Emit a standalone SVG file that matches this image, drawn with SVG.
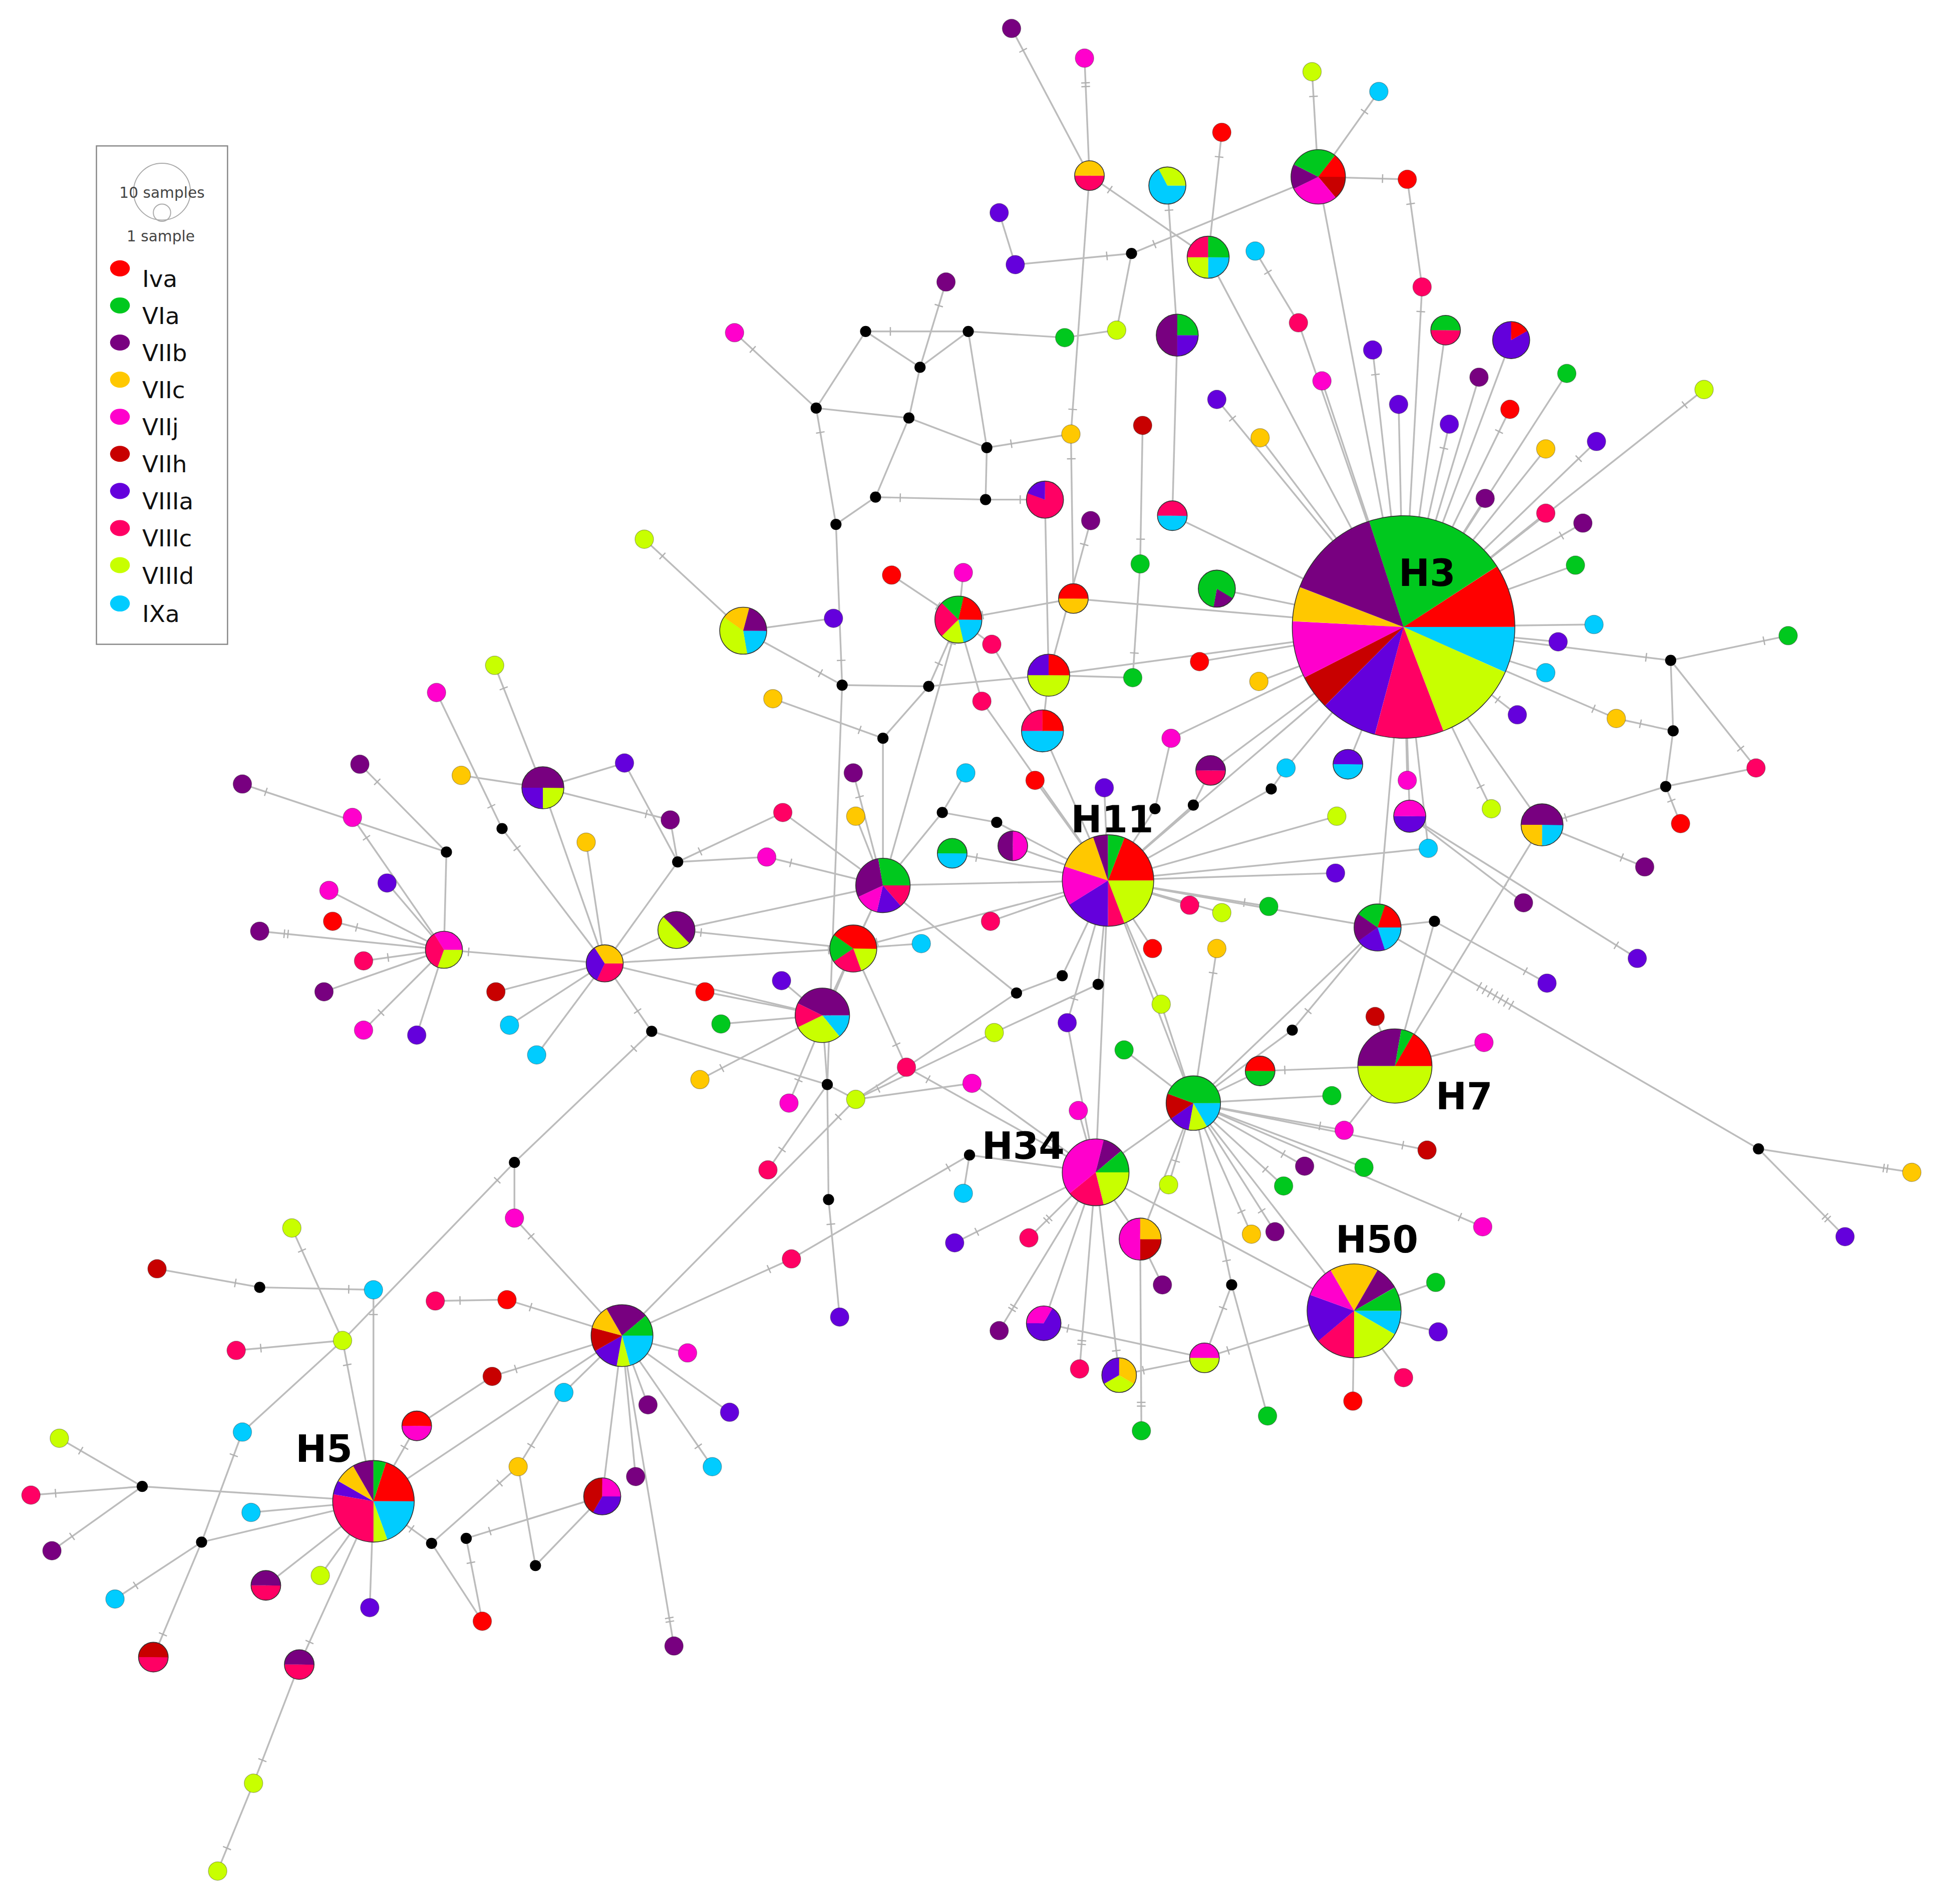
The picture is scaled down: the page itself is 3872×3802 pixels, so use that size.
<svg xmlns="http://www.w3.org/2000/svg" width="3872" height="3802" viewBox="0 0 3872 3802">
<style>
.e path{stroke:#bcbcbc;stroke-width:1.4;fill:none}
.e path.t{marker-start:url(#tk)}
.e path.u{marker-start:url(#tk2)}
.n{stroke:rgba(0,0,0,0.28);stroke-width:.6}
.b{fill:#000}
.f0{fill:#ff0000}.f1{fill:#00c81e}.f2{fill:#780080}.f3{fill:#ffc800}.f4{fill:#ff00cc}
.f5{fill:#c80000}.f6{fill:#6400dc}.f7{fill:#ff0064}.f8{fill:#c8ff00}.f9{fill:#00ccff}
.s{fill:none;stroke-width:100}
.k0{stroke:#ff0000}.k1{stroke:#00c81e}.k2{stroke:#780080}.k3{stroke:#ffc800}.k4{stroke:#ff00cc}
.k5{stroke:#c80000}.k6{stroke:#6400dc}.k7{stroke:#ff0064}.k8{stroke:#c8ff00}.k9{stroke:#00ccff}
.o{fill:none;stroke:#333;stroke-width:1.6}
.lab{font-family:"DejaVu Sans",Verdana,sans-serif;font-weight:bold;font-size:30px;fill:#000}
.lg{font-family:"DejaVu Sans",Verdana,sans-serif;font-size:19px;fill:#111}
.lgs{font-family:"DejaVu Sans",Verdana,sans-serif;font-size:12px;fill:#444;text-anchor:middle}
</style>
<defs>
<marker id="tk" markerUnits="userSpaceOnUse" orient="auto" refX="-20" refY="0" markerWidth="40" markerHeight="40" overflow="visible"><path d="M0 -3.5V3.5" stroke="#b0b0b0" stroke-width="1"/></marker>
<marker id="tk2" markerUnits="userSpaceOnUse" orient="auto" refX="-20" refY="0" markerWidth="40" markerHeight="40" overflow="visible"><path d="M0 -3.5V3.5M3 -3.5V3.5" stroke="#b0b0b0" stroke-width="1"/></marker>
</defs>
<rect width="3872" height="3802" fill="#fff"/>
<g transform="scale(2.4694)">
<g id="legend">
<rect x="78" y="118" width="106" height="403" fill="#fff" stroke="#888" stroke-width="1"/>
<circle cx="131" cy="155" r="23" fill="none" stroke="#aaa" stroke-width=".8"/>
<circle cx="131" cy="172" r="7" fill="none" stroke="#aaa" stroke-width=".8"/>
<text class="lgs" x="131" y="160">10 samples</text>
<text class="lgs" x="130" y="195">1 sample</text>
<ellipse cx="97" cy="217" rx="8" ry="6.5" class="f0"/><text class="lg" x="115" y="232">Iva</text>
<ellipse cx="97" cy="247" rx="8" ry="6.5" class="f1"/><text class="lg" x="115" y="262">VIa</text>
<ellipse cx="97" cy="277" rx="8" ry="6.5" class="f2"/><text class="lg" x="115" y="292">VIIb</text>
<ellipse cx="97" cy="307" rx="8" ry="6.5" class="f3"/><text class="lg" x="115" y="322">VIIc</text>
<ellipse cx="97" cy="337" rx="8" ry="6.5" class="f4"/><text class="lg" x="115" y="352">VIIj</text>
<ellipse cx="97" cy="367" rx="8" ry="6.5" class="f5"/><text class="lg" x="115" y="382">VIIh</text>
<ellipse cx="97" cy="397" rx="8" ry="6.5" class="f6"/><text class="lg" x="115" y="412">VIIIa</text>
<ellipse cx="97" cy="427" rx="8" ry="6.5" class="f7"/><text class="lg" x="115" y="442">VIIIc</text>
<ellipse cx="97" cy="457" rx="8" ry="6.5" class="f8"/><text class="lg" x="115" y="472">VIIId</text>
<ellipse cx="97" cy="488" rx="8" ry="6.5" class="f9"/><text class="lg" x="115" y="503">IXa</text>
</g>
<g id="edges" class="e">
<path class="t" d="M1150 232L1135 507"/><path class="t" d="M1138 145L1150 232"/><path class="t" d="M1138 145L1066 143"/><path d="M1066 143L1135 507"/>
<path class="t" d="M1061 58L1066 143"/><path class="t" d="M1115 74L1066 143"/><path d="M1050 261L1135 507"/><path class="t" d="M1015 203L1050 261"/>
<path d="M1069 308L1135 507"/><path class="t" d="M1110 283L1135 507"/><path d="M1131 327L1135 507"/><path d="M1169 267L1135 507"/>
<path class="t" d="M1172 343L1135 507"/><path d="M1196 305L1135 507"/><path d="M1222 275L1135 507"/><path class="t" d="M1221 331L1135 507"/>
<path d="M1267 302L1135 507"/><path d="M1250 363L1135 507"/><path class="t" d="M1291 357L1135 507"/><path class="t" d="M1378 315L1135 507"/>
<path d="M1201 403L1135 507"/><path d="M1250 415L1135 507"/><path class="t" d="M1280 423L1135 507"/><path d="M1274 457L1135 507"/>
<path d="M1289 505L1135 507"/><path d="M1260 519L1135 507"/><path d="M1250 544L1135 507"/><path class="t" d="M1227 578L1135 507"/>
<path class="t" d="M1307 581L1135 507"/><path class="t" d="M1206 654L1135 507"/><path d="M1140 660L1135 507"/><path d="M1138 631L1135 507"/>
<path d="M1090 618L1135 507"/><path d="M1040 621L1135 507"/><path d="M979 623L1135 507"/><path d="M947 597L1135 507"/>
<path d="M970 535L1135 507"/><path d="M1018 551L1135 507"/><path d="M984 476L1135 507"/><path d="M948 417L1135 507"/>
<path d="M1019 354L1135 507"/><path class="t" d="M984 323L1135 507"/><path class="t" d="M988 107L977 208"/><path d="M977 208L1135 507"/>
<path d="M868 484L1135 507"/><path d="M848 546L1135 507"/><path d="M896 712L1135 507"/><path d="M1114 750L1135 507"/>
<path d="M1247 667L1135 507"/><path d="M1155 686L1135 507"/><path class="t" d="M881 142L977 208"/><path class="t" d="M944 150L952 271"/>
<path d="M952 271L948 417"/><path class="t" d="M1446 514L1351 534"/><path class="t" d="M1351 534L1135 507"/><path class="t" d="M1420 621L1351 534"/>
<path d="M1353 591L1351 534"/><path class="t" d="M1307 581L1353 591"/><path d="M1347 636L1353 591"/><path class="t" d="M1359 666L1347 636"/>
<path d="M1420 621L1347 636"/><path class="t" d="M1247 667L1347 636"/><path class="t" d="M1330 701L1247 667"/><path class="t" d="M1232 730L1140 660"/>
<path class="t" d="M1324 775L1140 660"/><path class="t" d="M1251 795L1160 745"/><path d="M1160 745L1114 750"/><path d="M1160 745L1128 862"/>
<path class="t" d="M1128 862L1247 667"/><path d="M1200 843L1128 862"/><path d="M1112 822L1128 862"/><path d="M1087 914L1128 862"/>
<path class="t" d="M1154 930L965 892"/><path class="t" d="M1019 866L1128 862"/><path d="M1114 750L1422 929"/>
<path d="M1194.2 801.3L1198.2 794.3M1198.5 803.8L1202.5 796.8M1202.8 806.3L1206.8 799.3M1207.2 808.8L1211.2 801.8M1211.5 811.3L1215.5 804.3M1215.8 813.9L1219.8 806.9M1220.1 816.4L1224.1 809.4" style="stroke:#b0b0b0;stroke-width:1"/>
<path class="u" d="M1546 948L1422 929"/><path class="u" d="M1492 1000L1422 929"/>
<path d="M1080 706L896 712"/><path d="M1081 660L896 712"/><path d="M1028 638L896 712"/><path d="M1028 638L1040 621"/>
<path d="M965 651L896 712"/><path d="M965 651L979 623"/><path d="M934 654L896 712"/><path d="M934 654L947 597"/>
<path d="M893 637L896 712"/><path d="M837 631L896 712"/><path d="M806 665L896 712"/><path d="M819 684L896 712"/>
<path class="t" d="M770 690L896 712"/><path d="M801 745L896 712"/><path d="M962 732L896 712"/><path d="M932 767L896 712"/>
<path class="t" d="M988 738L896 712"/><path class="t" d="M1026 733L896 712"/><path d="M888 796L896 712"/><path d="M859 789L896 712"/>
<path class="t" d="M863 827L896 712"/><path d="M939 812L896 712"/><path d="M965 892L896 712"/><path class="t" d="M714 716L896 712"/>
<path class="t" d="M690 767L896 712"/><path d="M843 591L896 712"/><path d="M848 546L843 591"/><path d="M1114 750L896 712"/>
<path d="M1155 686L896 712"/><path class="t" d="M984 767L965 892"/>
<path d="M965 892L1114 750"/><path d="M1019 866L965 892"/><path d="M1077 886L965 892"/><path class="t" d="M1087 914L965 892"/>
<path class="t" d="M1055 943L965 892"/><path d="M1103 944L965 892"/><path class="t" d="M1038 959L965 892"/><path class="t" d="M1031 996L965 892"/>
<path class="t" d="M1012 998L965 892"/><path class="t" d="M945 958L965 892"/><path class="t" d="M1199 992L965 892"/><path d="M1161 1037L1095 1060"/>
<path class="u" d="M1095 1060L965 892"/><path d="M909 849L965 892"/><path d="M939 812L965 892"/><path d="M1045 833L965 892"/>
<path class="t" d="M1045 833L1114 750"/><path d="M886 948L965 892"/><path d="M922 1002L965 892"/><path class="t" d="M996 1039L965 892"/>
<path class="t" d="M996 1039L974 1098"/><path d="M996 1039L1025 1145"/><path class="t" d="M974 1098L1095 1060"/><path class="t" d="M844 1070L974 1098"/>
<path d="M1163 1077L1095 1060"/><path d="M1135 1114L1095 1060"/><path d="M1094 1133L1095 1060"/>
<path d="M872 898L886 948"/><path d="M863 827L886 948"/><path d="M786 876L886 948"/><path class="t" d="M733 863L886 948"/>
<path class="u" d="M832 1001L886 948"/><path d="M844 1070L886 948"/><path class="u" d="M808 1076L886 948"/><path class="u" d="M873 1107L886 948"/>
<path class="t" d="M905 1112L886 948"/><path d="M922 1002L886 948"/><path class="t" d="M772 1005L886 948"/><path d="M784 934L886 948"/>
<path d="M940 1039L922 1002"/><path class="u" d="M923 1157L922 1002"/><path class="t" d="M905 1112L974 1098"/><path class="t" d="M886 948L896 712"/>
<path d="M886 948L1095 1060"/>
<path class="t" d="M784 934L640 1018"/><path class="t" d="M640 1018L503 1080"/><path d="M779 965L784 934"/><path class="t" d="M692 889L503 1080"/>
<path d="M692 889L669 877"/><path d="M692 889L786 876"/><path class="t" d="M692 889L804 835"/><path d="M692 889L733 863"/>
<path d="M669 877L665 821"/><path d="M669 877L527 834"/><path d="M669 877L670 970"/><path class="t" d="M670 970L679 1065"/>
<path class="t" d="M621 946L669 877"/><path class="t" d="M638 892L690 767"/><path class="t" d="M527 834L489 779"/><path class="t" d="M527 834L416 940"/>
<path class="t" d="M416 940L277 1084"/><path d="M416 940L416 985"/><path class="t" d="M416 985L503 1080"/><path class="t" d="M733 863L690 767"/>
<path d="M822 803L733 863"/><path d="M822 803L714 716"/><path d="M859 789L822 803"/><path d="M804 835L888 796"/>
<path d="M570 802L665 821"/><path d="M583 828L665 821"/><path class="t" d="M566 873L665 821"/><path d="M632 793L665 821"/>
<path class="t" d="M665 821L714 716"/><path d="M665 821L489 779"/><path class="t" d="M690 767L489 779"/><path d="M690 767L714 716"/>
<path d="M745 763L690 767"/><path d="M714 716L762 657"/><path d="M762 657L781 625"/><path d="M762 657L806 665"/>
<path d="M633 657L714 716"/><path class="t" d="M620 693L714 716"/><path d="M692 660L714 716"/><path class="t" d="M690 625L714 716"/>
<path d="M714 716L714 597"/><path d="M714 597L751 555"/><path class="t" d="M714 597L625 565"/><path d="M751 555L681 554"/>
<path class="t" d="M751 555L775 501"/><path d="M751 555L848 546"/><path class="t" d="M681 554L601 510"/><path class="t" d="M681 554L676 424"/>
<path d="M681 554L669 877"/><path d="M674 500L601 510"/><path class="t" d="M521 436L601 510"/><path class="t" d="M775 501L721 465"/>
<path d="M779 463L775 501"/><path d="M802 521L775 501"/><path d="M775 501L794 567"/><path class="t" d="M775 501L714 716"/>
<path class="t" d="M775 501L868 484"/><path d="M794 567L896 712"/><path d="M802 521L843 591"/><path class="t" d="M882 421L848 546"/>
<path class="t" d="M916 548L922 456"/><path class="t" d="M922 456L924 344"/><path d="M916 548L848 546"/><path class="t" d="M845 404L797 404"/>
<path d="M845 404L848 546"/><path class="t" d="M866 351L881 142"/><path class="t" d="M866 351L868 484"/>
<path d="M903 267L861 273"/><path d="M861 273L783 268"/><path d="M903 267L915 205"/><path class="t" d="M915 205L1066 143"/>
<path class="t" d="M915 205L821 214"/><path d="M808 172L821 214"/><path class="t" d="M818 23L881 142"/><path class="u" d="M877 47L881 142"/>
<path class="t" d="M765 228L744 297"/><path class="t" d="M594 269L660 330"/><path d="M660 330L700 268"/><path class="t" d="M700 268L783 268"/>
<path d="M700 268L744 297"/><path d="M744 297L783 268"/><path d="M744 297L735 338"/><path d="M735 338L660 330"/>
<path d="M735 338L798 362"/><path d="M735 338L708 402"/><path d="M798 362L797 404"/><path class="t" d="M708 402L797 404"/>
<path d="M708 402L676 424"/><path class="t" d="M660 330L676 424"/><path class="t" d="M798 362L866 351"/><path d="M783 268L798 362"/>
<path class="t" d="M294 777L359 768"/><path class="t" d="M269 745L359 768"/><path d="M266 720L359 768"/><path class="t" d="M285 661L359 768"/>
<path d="M313 714L359 768"/><path class="u" d="M210 753L359 768"/><path d="M262 802L359 768"/><path class="t" d="M294 833L359 768"/>
<path d="M337 837L359 768"/><path d="M361 689L359 768"/><path class="t" d="M291 618L361 689"/><path class="t" d="M196 634L361 689"/>
<path class="t" d="M359 768L489 779"/><path d="M474 681L489 779"/><path class="t" d="M406 670L489 779"/><path d="M401 802L489 779"/>
<path d="M412 829L489 779"/><path d="M434 853L489 779"/><path d="M548 697L489 779"/><path d="M547 752L489 779"/>
<path d="M439 637L489 779"/><path class="t" d="M406 670L353 560"/><path class="t" d="M400 538L439 637"/><path d="M373 627L439 637"/>
<path d="M505 617L439 637"/><path class="t" d="M542 663L439 637"/><path d="M548 697L542 663"/><path d="M548 697L505 617"/>
<path class="t" d="M548 697L633 657"/><path d="M548 697L620 693"/><path class="t" d="M547 752L690 767"/><path d="M547 752L714 716"/>
<path class="t" d="M410 1051L503 1080"/><path d="M556 1094L503 1080"/><path d="M524 1136L503 1080"/><path d="M590 1142L503 1080"/>
<path class="t" d="M576 1186L503 1080"/><path d="M514 1194L503 1080"/><path d="M456 1126L503 1080"/><path class="t" d="M398 1113L503 1080"/>
<path class="u" d="M545 1331L503 1080"/><path d="M487 1210L503 1080"/><path class="t" d="M352 1052L410 1051"/><path class="t" d="M302 1214L503 1080"/>
<path class="t" d="M337 1153L302 1214"/><path d="M337 1153L398 1113"/><path class="t" d="M419 1186L456 1126"/><path d="M419 1186L433 1266"/>
<path class="t" d="M419 1186L349 1248"/><path class="t" d="M302 1043L302 1214"/><path class="t" d="M302 1043L210 1041"/><path class="t" d="M210 1041L127 1026"/>
<path class="t" d="M236 993L277 1084"/><path class="t" d="M277 1084L302 1214"/><path class="t" d="M191 1092L277 1084"/><path class="t" d="M196 1158L163 1247"/>
<path d="M196 1158L277 1084"/><path d="M115 1202L302 1214"/><path class="t" d="M48 1163L115 1202"/><path class="t" d="M25 1209L115 1202"/>
<path class="t" d="M42 1254L115 1202"/><path d="M203 1223L302 1214"/><path d="M163 1247L302 1214"/><path class="t" d="M93 1293L163 1247"/>
<path class="t" d="M124 1340L163 1247"/><path d="M259 1274L302 1214"/><path d="M215 1282L302 1214"/><path d="M299 1300L302 1214"/>
<path class="t" d="M242 1346L302 1214"/><path class="t" d="M205 1442L242 1346"/><path class="t" d="M176 1513L205 1442"/><path class="t" d="M349 1248L302 1214"/>
<path d="M349 1248L390 1311"/><path class="t" d="M377 1244L390 1311"/><path class="t" d="M377 1244L487 1210"/><path d="M433 1266L487 1210"/>
</g>
<g id="H3" transform="translate(1135 507) scale(.9)">
<circle class="s k0" r="50" pathLength="360" stroke-dasharray="33 360" transform="rotate(-33)"/>
<circle class="s k9" r="50" pathLength="360" stroke-dasharray="24 360" transform="rotate(0)"/>
<circle class="s k8" r="50" pathLength="360" stroke-dasharray="45 360" transform="rotate(24)"/>
<circle class="s k7" r="50" pathLength="360" stroke-dasharray="36 360" transform="rotate(69)"/>
<circle class="s k6" r="50" pathLength="360" stroke-dasharray="30 360" transform="rotate(105)"/>
<circle class="s k5" r="50" pathLength="360" stroke-dasharray="18 360" transform="rotate(135)"/>
<circle class="s k4" r="50" pathLength="360" stroke-dasharray="30 360" transform="rotate(153)"/>
<circle class="s k3" r="50" pathLength="360" stroke-dasharray="18 360" transform="rotate(183)"/>
<circle class="s k2" r="50" pathLength="360" stroke-dasharray="51 360" transform="rotate(201)"/>
<circle class="s k1" r="50" pathLength="360" stroke-dasharray="75 360" transform="rotate(252)"/>
<circle class="o" r="100" vector-effect="non-scaling-stroke"/>
</g>
<g id="H11" transform="translate(896 712) scale(.37)">
<circle class="s k0" r="50" pathLength="360" stroke-dasharray="69 360" transform="rotate(-69)"/>
<circle class="s k8" r="50" pathLength="360" stroke-dasharray="69 360" transform="rotate(0)"/>
<circle class="s k7" r="50" pathLength="360" stroke-dasharray="21 360" transform="rotate(69)"/>
<circle class="s k6" r="50" pathLength="360" stroke-dasharray="58 360" transform="rotate(90)"/>
<circle class="s k4" r="50" pathLength="360" stroke-dasharray="50 360" transform="rotate(148)"/>
<circle class="s k3" r="50" pathLength="360" stroke-dasharray="53 360" transform="rotate(198)"/>
<circle class="s k2" r="50" pathLength="360" stroke-dasharray="19 360" transform="rotate(251)"/>
<circle class="s k1" r="50" pathLength="360" stroke-dasharray="21 360" transform="rotate(270)"/>
<circle class="o" r="100" vector-effect="non-scaling-stroke"/>
</g>
<g id="H7" transform="translate(1128 862) scale(.3)">
<circle class="s k8" r="50" pathLength="360" stroke-dasharray="180 360" transform="rotate(0)"/>
<circle class="s k2" r="50" pathLength="360" stroke-dasharray="100 360" transform="rotate(180)"/>
<circle class="s k1" r="50" pathLength="360" stroke-dasharray="20 360" transform="rotate(280)"/>
<circle class="s k0" r="50" pathLength="360" stroke-dasharray="60 360" transform="rotate(300)"/>
<circle class="o" r="100" vector-effect="non-scaling-stroke"/>
</g>
<g id="H34" transform="translate(886 948) scale(.27)">
<circle class="s k8" r="50" pathLength="360" stroke-dasharray="76 360" transform="rotate(0)"/>
<circle class="s k7" r="50" pathLength="360" stroke-dasharray="65 360" transform="rotate(76)"/>
<circle class="s k4" r="50" pathLength="360" stroke-dasharray="143 360" transform="rotate(141)"/>
<circle class="s k2" r="50" pathLength="360" stroke-dasharray="36 360" transform="rotate(284)"/>
<circle class="s k1" r="50" pathLength="360" stroke-dasharray="40 360" transform="rotate(320)"/>
<circle class="o" r="100" vector-effect="non-scaling-stroke"/>
</g>
<g id="H50" transform="translate(1095 1060) scale(.38)">
<circle class="s k9" r="50" pathLength="360" stroke-dasharray="30 360" transform="rotate(0)"/>
<circle class="s k8" r="50" pathLength="360" stroke-dasharray="60 360" transform="rotate(30)"/>
<circle class="s k7" r="50" pathLength="360" stroke-dasharray="50 360" transform="rotate(90)"/>
<circle class="s k6" r="50" pathLength="360" stroke-dasharray="60 360" transform="rotate(140)"/>
<circle class="s k4" r="50" pathLength="360" stroke-dasharray="40 360" transform="rotate(200)"/>
<circle class="s k3" r="50" pathLength="360" stroke-dasharray="60 360" transform="rotate(240)"/>
<circle class="s k2" r="50" pathLength="360" stroke-dasharray="30 360" transform="rotate(300)"/>
<circle class="s k1" r="50" pathLength="360" stroke-dasharray="30 360" transform="rotate(330)"/>
<circle class="o" r="100" vector-effect="non-scaling-stroke"/>
</g>
<g id="H5" transform="translate(302 1214) scale(.33)">
<circle class="s k0" r="50" pathLength="360" stroke-dasharray="72 360" transform="rotate(-72)"/>
<circle class="s k9" r="50" pathLength="360" stroke-dasharray="70 360" transform="rotate(0)"/>
<circle class="s k8" r="50" pathLength="360" stroke-dasharray="20 360" transform="rotate(70)"/>
<circle class="s k7" r="50" pathLength="360" stroke-dasharray="100 360" transform="rotate(90)"/>
<circle class="s k6" r="50" pathLength="360" stroke-dasharray="20 360" transform="rotate(190)"/>
<circle class="s k3" r="50" pathLength="360" stroke-dasharray="30 360" transform="rotate(210)"/>
<circle class="s k2" r="50" pathLength="360" stroke-dasharray="30 360" transform="rotate(240)"/>
<circle class="s k1" r="50" pathLength="360" stroke-dasharray="18 360" transform="rotate(270)"/>
<circle class="o" r="100" vector-effect="non-scaling-stroke"/>
</g>
<g id="p503" transform="translate(503 1080) scale(.25)">
<circle class="s k9" r="50" pathLength="360" stroke-dasharray="75 360" transform="rotate(0)"/>
<circle class="s k8" r="50" pathLength="360" stroke-dasharray="25 360" transform="rotate(75)"/>
<circle class="s k6" r="50" pathLength="360" stroke-dasharray="50 360" transform="rotate(100)"/>
<circle class="s k5" r="50" pathLength="360" stroke-dasharray="45 360" transform="rotate(150)"/>
<circle class="s k3" r="50" pathLength="360" stroke-dasharray="45 360" transform="rotate(195)"/>
<circle class="s k2" r="50" pathLength="360" stroke-dasharray="80 360" transform="rotate(240)"/>
<circle class="s k1" r="50" pathLength="360" stroke-dasharray="40 360" transform="rotate(320)"/>
<circle class="o" r="100" vector-effect="non-scaling-stroke"/>
</g>
<g id="p965" transform="translate(965 892) scale(.22)">
<circle class="s k9" r="50" pathLength="360" stroke-dasharray="60 360" transform="rotate(0)"/>
<circle class="s k8" r="50" pathLength="360" stroke-dasharray="40 360" transform="rotate(60)"/>
<circle class="s k6" r="50" pathLength="360" stroke-dasharray="45 360" transform="rotate(100)"/>
<circle class="s k5" r="50" pathLength="360" stroke-dasharray="55 360" transform="rotate(145)"/>
<circle class="s k1" r="50" pathLength="360" stroke-dasharray="160 360" transform="rotate(200)"/>
<circle class="o" r="100" vector-effect="non-scaling-stroke"/>
</g>
<g id="p1114" transform="translate(1114 750) scale(.19)">
<circle class="s k0" r="50" pathLength="360" stroke-dasharray="72 360" transform="rotate(-72)"/>
<circle class="s k9" r="50" pathLength="360" stroke-dasharray="72 360" transform="rotate(0)"/>
<circle class="s k6" r="50" pathLength="360" stroke-dasharray="73 360" transform="rotate(72)"/>
<circle class="s k2" r="50" pathLength="360" stroke-dasharray="70 360" transform="rotate(145)"/>
<circle class="s k1" r="50" pathLength="360" stroke-dasharray="73 360" transform="rotate(215)"/>
<circle class="o" r="100" vector-effect="non-scaling-stroke"/>
</g>
<g id="p1247" transform="translate(1247 667) scale(.17)">
<circle class="s k9" r="50" pathLength="360" stroke-dasharray="90 360" transform="rotate(0)"/>
<circle class="s k3" r="50" pathLength="360" stroke-dasharray="90 360" transform="rotate(90)"/>
<circle class="s k2" r="50" pathLength="360" stroke-dasharray="180 360" transform="rotate(180)"/>
<circle class="o" r="100" vector-effect="non-scaling-stroke"/>
</g>
<g id="p1140" transform="translate(1140 660) scale(.13)">
<circle class="s k6" r="50" pathLength="360" stroke-dasharray="180 360" transform="rotate(0)"/>
<circle class="s k4" r="50" pathLength="360" stroke-dasharray="180 360" transform="rotate(180)"/>
<circle class="o" r="100" vector-effect="non-scaling-stroke"/>
</g>
<g id="p1090" transform="translate(1090 618) scale(.12)">
<circle class="s k9" r="50" pathLength="360" stroke-dasharray="180 360" transform="rotate(0)"/>
<circle class="s k6" r="50" pathLength="360" stroke-dasharray="180 360" transform="rotate(180)"/>
<circle class="o" r="100" vector-effect="non-scaling-stroke"/>
</g>
<g id="p714" transform="translate(714 716) scale(.22)">
<circle class="s k7" r="50" pathLength="360" stroke-dasharray="49 360" transform="rotate(0)"/>
<circle class="s k6" r="50" pathLength="360" stroke-dasharray="54 360" transform="rotate(49)"/>
<circle class="s k4" r="50" pathLength="360" stroke-dasharray="52 360" transform="rotate(103)"/>
<circle class="s k2" r="50" pathLength="360" stroke-dasharray="105 360" transform="rotate(155)"/>
<circle class="s k1" r="50" pathLength="360" stroke-dasharray="100 360" transform="rotate(260)"/>
<circle class="o" r="100" vector-effect="non-scaling-stroke"/>
</g>
<g id="p690" transform="translate(690 767) scale(.19)">
<circle class="s k8" r="50" pathLength="360" stroke-dasharray="70 360" transform="rotate(0)"/>
<circle class="s k7" r="50" pathLength="360" stroke-dasharray="76 360" transform="rotate(70)"/>
<circle class="s k1" r="50" pathLength="360" stroke-dasharray="69 360" transform="rotate(146)"/>
<circle class="s k0" r="50" pathLength="360" stroke-dasharray="145 360" transform="rotate(215)"/>
<circle class="o" r="100" vector-effect="non-scaling-stroke"/>
</g>
<g id="p665" transform="translate(665 821) scale(.22)">
<circle class="s k9" r="50" pathLength="360" stroke-dasharray="51 360" transform="rotate(0)"/>
<circle class="s k8" r="50" pathLength="360" stroke-dasharray="103 360" transform="rotate(51)"/>
<circle class="s k7" r="50" pathLength="360" stroke-dasharray="52 360" transform="rotate(154)"/>
<circle class="s k2" r="50" pathLength="360" stroke-dasharray="154 360" transform="rotate(206)"/>
<circle class="o" r="100" vector-effect="non-scaling-stroke"/>
</g>
<g id="p848" transform="translate(848 546) scale(.17)">
<circle class="s k8" r="50" pathLength="360" stroke-dasharray="180 360" transform="rotate(0)"/>
<circle class="s k6" r="50" pathLength="360" stroke-dasharray="90 360" transform="rotate(180)"/>
<circle class="s k0" r="50" pathLength="360" stroke-dasharray="90 360" transform="rotate(270)"/>
<circle class="o" r="100" vector-effect="non-scaling-stroke"/>
</g>
<g id="p843" transform="translate(843 591) scale(.17)">
<circle class="s k9" r="50" pathLength="360" stroke-dasharray="180 360" transform="rotate(0)"/>
<circle class="s k7" r="50" pathLength="360" stroke-dasharray="90 360" transform="rotate(180)"/>
<circle class="s k0" r="50" pathLength="360" stroke-dasharray="90 360" transform="rotate(270)"/>
<circle class="o" r="100" vector-effect="non-scaling-stroke"/>
</g>
<g id="p775" transform="translate(775 501) scale(.19)">
<circle class="s k9" r="50" pathLength="360" stroke-dasharray="77 360" transform="rotate(0)"/>
<circle class="s k8" r="50" pathLength="360" stroke-dasharray="58 360" transform="rotate(77)"/>
<circle class="s k7" r="50" pathLength="360" stroke-dasharray="90 360" transform="rotate(135)"/>
<circle class="s k1" r="50" pathLength="360" stroke-dasharray="58 360" transform="rotate(225)"/>
<circle class="s k0" r="50" pathLength="360" stroke-dasharray="77 360" transform="rotate(283)"/>
<circle class="o" r="100" vector-effect="non-scaling-stroke"/>
</g>
<g id="p601" transform="translate(601 510) scale(.19)">
<circle class="s k9" r="50" pathLength="360" stroke-dasharray="80 360" transform="rotate(0)"/>
<circle class="s k8" r="50" pathLength="360" stroke-dasharray="135 360" transform="rotate(80)"/>
<circle class="s k3" r="50" pathLength="360" stroke-dasharray="70 360" transform="rotate(215)"/>
<circle class="s k2" r="50" pathLength="360" stroke-dasharray="75 360" transform="rotate(285)"/>
<circle class="o" r="100" vector-effect="non-scaling-stroke"/>
</g>
<g id="p868" transform="translate(868 484) scale(.12)">
<circle class="s k3" r="50" pathLength="360" stroke-dasharray="180 360" transform="rotate(0)"/>
<circle class="s k0" r="50" pathLength="360" stroke-dasharray="180 360" transform="rotate(180)"/>
<circle class="o" r="100" vector-effect="non-scaling-stroke"/>
</g>
<g id="p489" transform="translate(489 779) scale(.15)">
<circle class="s k7" r="50" pathLength="360" stroke-dasharray="115 360" transform="rotate(0)"/>
<circle class="s k6" r="50" pathLength="360" stroke-dasharray="122 360" transform="rotate(115)"/>
<circle class="s k3" r="50" pathLength="360" stroke-dasharray="123 360" transform="rotate(237)"/>
<circle class="o" r="100" vector-effect="non-scaling-stroke"/>
</g>
<g id="p359" transform="translate(359 768) scale(.15)">
<circle class="s k8" r="50" pathLength="360" stroke-dasharray="110 360" transform="rotate(0)"/>
<circle class="s k7" r="50" pathLength="360" stroke-dasharray="128 360" transform="rotate(110)"/>
<circle class="s k4" r="50" pathLength="360" stroke-dasharray="122 360" transform="rotate(238)"/>
<circle class="o" r="100" vector-effect="non-scaling-stroke"/>
</g>
<g id="p439" transform="translate(439 637) scale(.17)">
<circle class="s k8" r="50" pathLength="360" stroke-dasharray="90 360" transform="rotate(0)"/>
<circle class="s k6" r="50" pathLength="360" stroke-dasharray="90 360" transform="rotate(90)"/>
<circle class="s k2" r="50" pathLength="360" stroke-dasharray="180 360" transform="rotate(180)"/>
<circle class="o" r="100" vector-effect="non-scaling-stroke"/>
</g>
<g id="p547" transform="translate(547 752) scale(.15)">
<circle class="s k8" r="50" pathLength="360" stroke-dasharray="180 360" transform="rotate(45)"/>
<circle class="s k2" r="50" pathLength="360" stroke-dasharray="180 360" transform="rotate(225)"/>
<circle class="o" r="100" vector-effect="non-scaling-stroke"/>
</g>
<g id="p487" transform="translate(487 1210) scale(.15)">
<circle class="s k6" r="50" pathLength="360" stroke-dasharray="120 360" transform="rotate(0)"/>
<circle class="s k5" r="50" pathLength="360" stroke-dasharray="150 360" transform="rotate(120)"/>
<circle class="s k4" r="50" pathLength="360" stroke-dasharray="90 360" transform="rotate(270)"/>
<circle class="o" r="100" vector-effect="non-scaling-stroke"/>
</g>
<g id="p337" transform="translate(337 1153) scale(.12)">
<circle class="s k4" r="50" pathLength="360" stroke-dasharray="180 360" transform="rotate(0)"/>
<circle class="s k0" r="50" pathLength="360" stroke-dasharray="180 360" transform="rotate(180)"/>
<circle class="o" r="100" vector-effect="non-scaling-stroke"/>
</g>
<g id="p1066" transform="translate(1066 143) scale(.22)">
<circle class="s k5" r="50" pathLength="360" stroke-dasharray="50 360" transform="rotate(0)"/>
<circle class="s k4" r="50" pathLength="360" stroke-dasharray="104 360" transform="rotate(50)"/>
<circle class="s k2" r="50" pathLength="360" stroke-dasharray="53 360" transform="rotate(154)"/>
<circle class="s k1" r="50" pathLength="360" stroke-dasharray="101 360" transform="rotate(207)"/>
<circle class="s k0" r="50" pathLength="360" stroke-dasharray="52 360" transform="rotate(308)"/>
<circle class="o" r="100" vector-effect="non-scaling-stroke"/>
</g>
<g id="p944" transform="translate(944 150) scale(.15)">
<circle class="s k9" r="50" pathLength="360" stroke-dasharray="242 360" transform="rotate(0)"/>
<circle class="s k8" r="50" pathLength="360" stroke-dasharray="118 360" transform="rotate(242)"/>
<circle class="o" r="100" vector-effect="non-scaling-stroke"/>
</g>
<g id="p977" transform="translate(977 208) scale(.17)">
<circle class="s k9" r="50" pathLength="360" stroke-dasharray="90 360" transform="rotate(0)"/>
<circle class="s k8" r="50" pathLength="360" stroke-dasharray="90 360" transform="rotate(90)"/>
<circle class="s k7" r="50" pathLength="360" stroke-dasharray="90 360" transform="rotate(180)"/>
<circle class="s k1" r="50" pathLength="360" stroke-dasharray="90 360" transform="rotate(270)"/>
<circle class="o" r="100" vector-effect="non-scaling-stroke"/>
</g>
<g id="p952" transform="translate(952 271) scale(.17)">
<circle class="s k6" r="50" pathLength="360" stroke-dasharray="90 360" transform="rotate(0)"/>
<circle class="s k2" r="50" pathLength="360" stroke-dasharray="180 360" transform="rotate(90)"/>
<circle class="s k1" r="50" pathLength="360" stroke-dasharray="90 360" transform="rotate(270)"/>
<circle class="o" r="100" vector-effect="non-scaling-stroke"/>
</g>
<g id="p922" transform="translate(922 1002) scale(.17)">
<circle class="s k5" r="50" pathLength="360" stroke-dasharray="90 360" transform="rotate(0)"/>
<circle class="s k4" r="50" pathLength="360" stroke-dasharray="180 360" transform="rotate(90)"/>
<circle class="s k3" r="50" pathLength="360" stroke-dasharray="90 360" transform="rotate(270)"/>
<circle class="o" r="100" vector-effect="non-scaling-stroke"/>
</g>
<g id="p974" transform="translate(974 1098) scale(.12)">
<circle class="s k8" r="50" pathLength="360" stroke-dasharray="180 360" transform="rotate(0)"/>
<circle class="s k4" r="50" pathLength="360" stroke-dasharray="180 360" transform="rotate(180)"/>
<circle class="o" r="100" vector-effect="non-scaling-stroke"/>
</g>
<g id="p1019" transform="translate(1019 866) scale(.12)">
<circle class="s k1" r="50" pathLength="360" stroke-dasharray="180 360" transform="rotate(0)"/>
<circle class="s k0" r="50" pathLength="360" stroke-dasharray="180 360" transform="rotate(180)"/>
<circle class="o" r="100" vector-effect="non-scaling-stroke"/>
</g>
<g id="p979" transform="translate(979 623) scale(.12)">
<circle class="s k7" r="50" pathLength="360" stroke-dasharray="180 360" transform="rotate(0)"/>
<circle class="s k2" r="50" pathLength="360" stroke-dasharray="180 360" transform="rotate(180)"/>
<circle class="o" r="100" vector-effect="non-scaling-stroke"/>
</g>
<g id="p948" transform="translate(948 417) scale(.12)">
<circle class="s k9" r="50" pathLength="360" stroke-dasharray="180 360" transform="rotate(0)"/>
<circle class="s k7" r="50" pathLength="360" stroke-dasharray="180 360" transform="rotate(180)"/>
<circle class="o" r="100" vector-effect="non-scaling-stroke"/>
</g>
<g id="p1169" transform="translate(1169 267) scale(.12)">
<circle class="s k7" r="50" pathLength="360" stroke-dasharray="180 360" transform="rotate(0)"/>
<circle class="s k1" r="50" pathLength="360" stroke-dasharray="180 360" transform="rotate(180)"/>
<circle class="o" r="100" vector-effect="non-scaling-stroke"/>
</g>
<g id="p1222" transform="translate(1222 275) scale(.15)">
<circle class="s k6" r="50" pathLength="360" stroke-dasharray="300 360" transform="rotate(-30)"/>
<circle class="s k0" r="50" pathLength="360" stroke-dasharray="60 360" transform="rotate(270)"/>
<circle class="o" r="100" vector-effect="non-scaling-stroke"/>
</g>
<g id="p881" transform="translate(881 142) scale(.12)">
<circle class="s k7" r="50" pathLength="360" stroke-dasharray="180 360" transform="rotate(0)"/>
<circle class="s k3" r="50" pathLength="360" stroke-dasharray="180 360" transform="rotate(180)"/>
<circle class="o" r="100" vector-effect="non-scaling-stroke"/>
</g>
<g id="p845" transform="translate(845 404) scale(.15)">
<circle class="s k7" r="50" pathLength="360" stroke-dasharray="290 360" transform="rotate(-90)"/>
<circle class="s k6" r="50" pathLength="360" stroke-dasharray="70 360" transform="rotate(200)"/>
<circle class="o" r="100" vector-effect="non-scaling-stroke"/>
</g>
<g id="p984" transform="translate(984 476) scale(.15)">
<circle class="s k2" r="50" pathLength="360" stroke-dasharray="70 360" transform="rotate(30)"/>
<circle class="s k1" r="50" pathLength="360" stroke-dasharray="290 360" transform="rotate(100)"/>
<circle class="o" r="100" vector-effect="non-scaling-stroke"/>
</g>
<g id="p819" transform="translate(819 684) scale(.12)">
<circle class="s k4" r="50" pathLength="360" stroke-dasharray="180 360" transform="rotate(-90)"/>
<circle class="s k2" r="50" pathLength="360" stroke-dasharray="180 360" transform="rotate(90)"/>
<circle class="o" r="100" vector-effect="non-scaling-stroke"/>
</g>
<g id="p770" transform="translate(770 690) scale(.12)">
<circle class="s k9" r="50" pathLength="360" stroke-dasharray="180 360" transform="rotate(0)"/>
<circle class="s k1" r="50" pathLength="360" stroke-dasharray="180 360" transform="rotate(180)"/>
<circle class="o" r="100" vector-effect="non-scaling-stroke"/>
</g>
<g id="p124" transform="translate(124 1340) scale(.12)">
<circle class="s k7" r="50" pathLength="360" stroke-dasharray="180 360" transform="rotate(0)"/>
<circle class="s k5" r="50" pathLength="360" stroke-dasharray="180 360" transform="rotate(180)"/>
<circle class="o" r="100" vector-effect="non-scaling-stroke"/>
</g>
<g id="p242" transform="translate(242 1346) scale(.12)">
<circle class="s k7" r="50" pathLength="360" stroke-dasharray="180 360" transform="rotate(0)"/>
<circle class="s k2" r="50" pathLength="360" stroke-dasharray="180 360" transform="rotate(180)"/>
<circle class="o" r="100" vector-effect="non-scaling-stroke"/>
</g>
<g id="p215" transform="translate(215 1282) scale(.12)">
<circle class="s k7" r="50" pathLength="360" stroke-dasharray="180 360" transform="rotate(0)"/>
<circle class="s k2" r="50" pathLength="360" stroke-dasharray="180 360" transform="rotate(180)"/>
<circle class="o" r="100" vector-effect="non-scaling-stroke"/>
</g>
<g id="p844" transform="translate(844 1070) scale(.14)">
<circle class="s k6" r="50" pathLength="360" stroke-dasharray="240 360" transform="rotate(-60)"/>
<circle class="s k4" r="50" pathLength="360" stroke-dasharray="120 360" transform="rotate(180)"/>
<circle class="o" r="100" vector-effect="non-scaling-stroke"/>
</g>
<g id="p905" transform="translate(905 1112) scale(.14)">
<circle class="s k8" r="50" pathLength="360" stroke-dasharray="120 360" transform="rotate(30)"/>
<circle class="s k6" r="50" pathLength="360" stroke-dasharray="120 360" transform="rotate(150)"/>
<circle class="s k3" r="50" pathLength="360" stroke-dasharray="120 360" transform="rotate(270)"/>
<circle class="o" r="100" vector-effect="non-scaling-stroke"/>
</g>
<g id="small-nodes">
<g id="n1"><circle class="n f2" cx="818" cy="23" r="7.5"/></g><g id="n2"><circle class="n f4" cx="877" cy="47" r="7.5"/></g>
<g id="n3"><circle class="n f8" cx="1061" cy="58" r="7.5"/></g><g id="n4"><circle class="n f9" cx="1115" cy="74" r="7.5"/></g>
<g id="n5"><circle class="n f0" cx="988" cy="107" r="7.5"/></g><g id="n6"><circle class="n f0" cx="1138" cy="145" r="7.5"/></g>
<g id="n7"><circle class="n f6" cx="808" cy="172" r="7.5"/></g><g id="n8"><circle class="n f9" cx="1015" cy="203" r="7.5"/></g>
<g id="n9"><circle class="n f6" cx="821" cy="214" r="7.5"/></g><g id="n10"><circle class="n f7" cx="1150" cy="232" r="7.5"/></g>
<g id="n11"><circle class="n f2" cx="765" cy="228" r="7.5"/></g><g id="n12"><circle class="n f4" cx="594" cy="269" r="7.5"/></g>
<g id="n13"><circle class="n f1" cx="861" cy="273" r="7.5"/></g><g id="n14"><circle class="n f8" cx="903" cy="267" r="7.5"/></g>
<g id="n15"><circle class="n f7" cx="1050" cy="261" r="7.5"/></g><g id="n16"><circle class="n f6" cx="1110" cy="283" r="7.5"/></g>
<g id="n17"><circle class="n f4" cx="1069" cy="308" r="7.5"/></g><g id="n18"><circle class="n f2" cx="1196" cy="305" r="7.5"/></g>
<g id="n19"><circle class="n f1" cx="1267" cy="302" r="7.5"/></g><g id="n20"><circle class="n f8" cx="1378" cy="315" r="7.5"/></g>
<g id="n21"><circle class="n f6" cx="984" cy="323" r="7.5"/></g><g id="n22"><circle class="n f6" cx="1131" cy="327" r="7.5"/></g>
<g id="n23"><circle class="n f0" cx="1221" cy="331" r="7.5"/></g><g id="n24"><circle class="n f5" cx="924" cy="344" r="7.5"/></g>
<g id="n25"><circle class="n f3" cx="866" cy="351" r="7.5"/></g><g id="n26"><circle class="n f3" cx="1019" cy="354" r="7.5"/></g>
<g id="n27"><circle class="n f6" cx="1172" cy="343" r="7.5"/></g><g id="n28"><circle class="n f6" cx="1291" cy="357" r="7.5"/></g>
<g id="n29"><circle class="n f3" cx="1250" cy="363" r="7.5"/></g><g id="n30"><circle class="n f2" cx="1201" cy="403" r="7.5"/></g>
<g id="n31"><circle class="n f2" cx="882" cy="421" r="7.5"/></g><g id="n32"><circle class="n f7" cx="1250" cy="415" r="7.5"/></g>
<g id="n33"><circle class="n f2" cx="1280" cy="423" r="7.5"/></g><g id="n34"><circle class="n f8" cx="521" cy="436" r="7.5"/></g>
<g id="n35"><circle class="n f1" cx="922" cy="456" r="7.5"/></g><g id="n36"><circle class="n f1" cx="1274" cy="457" r="7.5"/></g>
<g id="n37"><circle class="n f0" cx="721" cy="465" r="7.5"/></g><g id="n38"><circle class="n f4" cx="779" cy="463" r="7.5"/></g>
<g id="n39"><circle class="n f6" cx="674" cy="500" r="7.5"/></g><g id="n40"><circle class="n f9" cx="1289" cy="505" r="7.5"/></g>
<g id="n41"><circle class="n f6" cx="1260" cy="519" r="7.5"/></g><g id="n42"><circle class="n f1" cx="1446" cy="514" r="7.5"/></g>
<g id="n43"><circle class="n f7" cx="802" cy="521" r="7.5"/></g><g id="n44"><circle class="n f0" cx="970" cy="535" r="7.5"/></g>
<g id="n45"><circle class="n f1" cx="916" cy="548" r="7.5"/></g><g id="n46"><circle class="n f3" cx="1018" cy="551" r="7.5"/></g>
<g id="n47"><circle class="n f9" cx="1250" cy="544" r="7.5"/></g><g id="n48"><circle class="n f3" cx="625" cy="565" r="7.5"/></g>
<g id="n49"><circle class="n f7" cx="794" cy="567" r="7.5"/></g><g id="n50"><circle class="n f6" cx="1227" cy="578" r="7.5"/></g>
<g id="n51"><circle class="n f3" cx="1307" cy="581" r="7.5"/></g><g id="n52"><circle class="n f4" cx="947" cy="597" r="7.5"/></g>
<g id="n53"><circle class="n f7" cx="1420" cy="621" r="7.5"/></g><g id="n54"><circle class="n f4" cx="353" cy="560" r="7.5"/></g>
<g id="n55"><circle class="n f8" cx="400" cy="538" r="7.5"/></g><g id="n56"><circle class="n f6" cx="505" cy="617" r="7.5"/></g>
<g id="n57"><circle class="n f3" cx="373" cy="627" r="7.5"/></g><g id="n58"><circle class="n f2" cx="291" cy="618" r="7.5"/></g>
<g id="n59"><circle class="n f2" cx="196" cy="634" r="7.5"/></g><g id="n60"><circle class="n f4" cx="285" cy="661" r="7.5"/></g>
<g id="n61"><circle class="n f3" cx="474" cy="681" r="7.5"/></g><g id="n62"><circle class="n f2" cx="542" cy="663" r="7.5"/></g>
<g id="n63"><circle class="n f7" cx="633" cy="657" r="7.5"/></g><g id="n64"><circle class="n f3" cx="692" cy="660" r="7.5"/></g>
<g id="n65"><circle class="n f2" cx="690" cy="625" r="7.5"/></g><g id="n66"><circle class="n f9" cx="781" cy="625" r="7.5"/></g>
<g id="n67"><circle class="n f0" cx="837" cy="631" r="7.5"/></g><g id="n68"><circle class="n f6" cx="893" cy="637" r="7.5"/></g>
<g id="n69"><circle class="n f9" cx="1040" cy="621" r="7.5"/></g><g id="n70"><circle class="n f4" cx="1138" cy="631" r="7.5"/></g>
<g id="n71"><circle class="n f8" cx="1081" cy="660" r="7.5"/></g><g id="n72"><circle class="n f8" cx="1206" cy="654" r="7.5"/></g>
<g id="n73"><circle class="n f0" cx="1359" cy="666" r="7.5"/></g><g id="n74"><circle class="n f9" cx="1155" cy="686" r="7.5"/></g>
<g id="n75"><circle class="n f2" cx="1330" cy="701" r="7.5"/></g><g id="n76"><circle class="n f4" cx="620" cy="693" r="7.5"/></g>
<g id="n77"><circle class="n f6" cx="313" cy="714" r="7.5"/></g><g id="n78"><circle class="n f4" cx="266" cy="720" r="7.5"/></g>
<g id="n79"><circle class="n f0" cx="269" cy="745" r="7.5"/></g><g id="n80"><circle class="n f2" cx="210" cy="753" r="7.5"/></g>
<g id="n81"><circle class="n f7" cx="294" cy="777" r="7.5"/></g><g id="n82"><circle class="n f2" cx="262" cy="802" r="7.5"/></g>
<g id="n83"><circle class="n f4" cx="294" cy="833" r="7.5"/></g><g id="n84"><circle class="n f6" cx="337" cy="837" r="7.5"/></g>
<g id="n85"><circle class="n f7" cx="801" cy="745" r="7.5"/></g><g id="n86"><circle class="n f9" cx="745" cy="763" r="7.5"/></g>
<g id="n87"><circle class="n f7" cx="962" cy="732" r="7.5"/></g><g id="n88"><circle class="n f0" cx="932" cy="767" r="7.5"/></g>
<g id="n89"><circle class="n f8" cx="988" cy="738" r="7.5"/></g><g id="n90"><circle class="n f1" cx="1026" cy="733" r="7.5"/></g>
<g id="n91"><circle class="n f6" cx="1080" cy="706" r="7.5"/></g><g id="n92"><circle class="n f2" cx="1232" cy="730" r="7.5"/></g>
<g id="n93"><circle class="n f6" cx="1251" cy="795" r="7.5"/></g><g id="n94"><circle class="n f6" cx="1324" cy="775" r="7.5"/></g>
<g id="n95"><circle class="n f3" cx="984" cy="767" r="7.5"/></g><g id="n96"><circle class="n f5" cx="401" cy="802" r="7.5"/></g>
<g id="n97"><circle class="n f9" cx="412" cy="829" r="7.5"/></g><g id="n98"><circle class="n f9" cx="434" cy="853" r="7.5"/></g>
<g id="n99"><circle class="n f0" cx="570" cy="802" r="7.5"/></g><g id="n100"><circle class="n f6" cx="632" cy="793" r="7.5"/></g>
<g id="n101"><circle class="n f1" cx="583" cy="828" r="7.5"/></g><g id="n102"><circle class="n f3" cx="566" cy="873" r="7.5"/></g>
<g id="n103"><circle class="n f6" cx="863" cy="827" r="7.5"/></g><g id="n104"><circle class="n f8" cx="804" cy="835" r="7.5"/></g>
<g id="n105"><circle class="n f8" cx="939" cy="812" r="7.5"/></g><g id="n106"><circle class="n f1" cx="909" cy="849" r="7.5"/></g>
<g id="n107"><circle class="n f5" cx="1112" cy="822" r="7.5"/></g><g id="n108"><circle class="n f4" cx="1200" cy="843" r="7.5"/></g>
<g id="n109"><circle class="n f1" cx="1077" cy="886" r="7.5"/></g><g id="n110"><circle class="n f4" cx="1087" cy="914" r="7.5"/></g>
<g id="n111"><circle class="n f5" cx="1154" cy="930" r="7.5"/></g><g id="n112"><circle class="n f7" cx="733" cy="863" r="7.5"/></g>
<g id="n113"><circle class="n f4" cx="786" cy="876" r="7.5"/></g><g id="n114"><circle class="n f4" cx="638" cy="892" r="7.5"/></g>
<g id="n115"><circle class="n f8" cx="692" cy="889" r="7.5"/></g><g id="n116"><circle class="n f4" cx="872" cy="898" r="7.5"/></g>
<g id="n117"><circle class="n f9" cx="779" cy="965" r="7.5"/></g><g id="n118"><circle class="n f7" cx="621" cy="946" r="7.5"/></g>
<g id="n119"><circle class="n f2" cx="1055" cy="943" r="7.5"/></g><g id="n120"><circle class="n f1" cx="1103" cy="944" r="7.5"/></g>
<g id="n121"><circle class="n f1" cx="1038" cy="959" r="7.5"/></g><g id="n122"><circle class="n f8" cx="945" cy="958" r="7.5"/></g>
<g id="n123"><circle class="n f4" cx="1199" cy="992" r="7.5"/></g><g id="n124"><circle class="n f3" cx="1546" cy="948" r="7.5"/></g>
<g id="n125"><circle class="n f6" cx="1492" cy="1000" r="7.5"/></g><g id="n126"><circle class="n f3" cx="1012" cy="998" r="7.5"/></g>
<g id="n127"><circle class="n f2" cx="1031" cy="996" r="7.5"/></g><g id="n128"><circle class="n f2" cx="940" cy="1039" r="7.5"/></g>
<g id="n129"><circle class="n f7" cx="832" cy="1001" r="7.5"/></g><g id="n130"><circle class="n f6" cx="772" cy="1005" r="7.5"/></g>
<g id="n131"><circle class="n f1" cx="1161" cy="1037" r="7.5"/></g><g id="n132"><circle class="n f6" cx="1163" cy="1077" r="7.5"/></g>
<g id="n133"><circle class="n f7" cx="1135" cy="1114" r="7.5"/></g><g id="n134"><circle class="n f0" cx="1094" cy="1133" r="7.5"/></g>
<g id="n135"><circle class="n f1" cx="1025" cy="1145" r="7.5"/></g><g id="n136"><circle class="n f1" cx="923" cy="1157" r="7.5"/></g>
<g id="n137"><circle class="n f7" cx="873" cy="1107" r="7.5"/></g><g id="n138"><circle class="n f2" cx="808" cy="1076" r="7.5"/></g>
<g id="n139"><circle class="n f6" cx="679" cy="1065" r="7.5"/></g><g id="n140"><circle class="n f7" cx="640" cy="1018" r="7.5"/></g>
<g id="n141"><circle class="n f4" cx="416" cy="985" r="7.5"/></g><g id="n142"><circle class="n f8" cx="236" cy="993" r="7.5"/></g>
<g id="n143"><circle class="n f9" cx="302" cy="1043" r="7.5"/></g><g id="n144"><circle class="n f5" cx="127" cy="1026" r="7.5"/></g>
<g id="n145"><circle class="n f8" cx="277" cy="1084" r="7.5"/></g><g id="n146"><circle class="n f7" cx="191" cy="1092" r="7.5"/></g>
<g id="n147"><circle class="n f7" cx="352" cy="1052" r="7.5"/></g><g id="n148"><circle class="n f0" cx="410" cy="1051" r="7.5"/></g>
<g id="n149"><circle class="n f4" cx="556" cy="1094" r="7.5"/></g><g id="n150"><circle class="n f5" cx="398" cy="1113" r="7.5"/></g>
<g id="n151"><circle class="n f9" cx="456" cy="1126" r="7.5"/></g><g id="n152"><circle class="n f2" cx="524" cy="1136" r="7.5"/></g>
<g id="n153"><circle class="n f6" cx="590" cy="1142" r="7.5"/></g><g id="n154"><circle class="n f9" cx="196" cy="1158" r="7.5"/></g>
<g id="n155"><circle class="n f8" cx="48" cy="1163" r="7.5"/></g><g id="n156"><circle class="n f7" cx="25" cy="1209" r="7.5"/></g>
<g id="n157"><circle class="n f2" cx="42" cy="1254" r="7.5"/></g><g id="n158"><circle class="n f9" cx="203" cy="1223" r="7.5"/></g>
<g id="n159"><circle class="n f3" cx="419" cy="1186" r="7.5"/></g><g id="n160"><circle class="n f2" cx="514" cy="1194" r="7.5"/></g>
<g id="n161"><circle class="n f9" cx="576" cy="1186" r="7.5"/></g><g id="n162"><circle class="n f8" cx="259" cy="1274" r="7.5"/></g>
<g id="n163"><circle class="n f6" cx="299" cy="1300" r="7.5"/></g><g id="n164"><circle class="n f9" cx="93" cy="1293" r="7.5"/></g>
<g id="n165"><circle class="n f0" cx="390" cy="1311" r="7.5"/></g><g id="n166"><circle class="n f2" cx="545" cy="1331" r="7.5"/></g>
<g id="n167"><circle class="n f8" cx="205" cy="1442" r="7.5"/></g><g id="n168"><circle class="n f8" cx="176" cy="1513" r="7.5"/></g>
</g>
<g id="median-vectors">
<g id="m1"><circle class="b" cx="915" cy="205" r="4.5"/></g><g id="m2"><circle class="b" cx="700" cy="268" r="4.5"/></g>
<g id="m3"><circle class="b" cx="783" cy="268" r="4.5"/></g><g id="m4"><circle class="b" cx="744" cy="297" r="4.5"/></g>
<g id="m5"><circle class="b" cx="660" cy="330" r="4.5"/></g><g id="m6"><circle class="b" cx="735" cy="338" r="4.5"/></g>
<g id="m7"><circle class="b" cx="798" cy="362" r="4.5"/></g><g id="m8"><circle class="b" cx="708" cy="402" r="4.5"/></g>
<g id="m9"><circle class="b" cx="797" cy="404" r="4.5"/></g><g id="m10"><circle class="b" cx="676" cy="424" r="4.5"/></g>
<g id="m11"><circle class="b" cx="681" cy="554" r="4.5"/></g><g id="m12"><circle class="b" cx="751" cy="555" r="4.5"/></g>
<g id="m13"><circle class="b" cx="714" cy="597" r="4.5"/></g><g id="m14"><circle class="b" cx="1351" cy="534" r="4.5"/></g>
<g id="m15"><circle class="b" cx="1353" cy="591" r="4.5"/></g><g id="m16"><circle class="b" cx="1347" cy="636" r="4.5"/></g>
<g id="m17"><circle class="b" cx="406" cy="670" r="4.5"/></g><g id="m18"><circle class="b" cx="361" cy="689" r="4.5"/></g>
<g id="m19"><circle class="b" cx="548" cy="697" r="4.5"/></g><g id="m20"><circle class="b" cx="762" cy="657" r="4.5"/></g>
<g id="m21"><circle class="b" cx="806" cy="665" r="4.5"/></g><g id="m22"><circle class="b" cx="1028" cy="638" r="4.5"/></g>
<g id="m23"><circle class="b" cx="965" cy="651" r="4.5"/></g><g id="m24"><circle class="b" cx="934" cy="654" r="4.5"/></g>
<g id="m25"><circle class="b" cx="1160" cy="745" r="4.5"/></g><g id="m26"><circle class="b" cx="527" cy="834" r="4.5"/></g>
<g id="m27"><circle class="b" cx="822" cy="803" r="4.5"/></g><g id="m28"><circle class="b" cx="859" cy="789" r="4.5"/></g>
<g id="m29"><circle class="b" cx="888" cy="796" r="4.5"/></g><g id="m30"><circle class="b" cx="1045" cy="833" r="4.5"/></g>
<g id="m31"><circle class="b" cx="669" cy="877" r="4.5"/></g><g id="m32"><circle class="b" cx="784" cy="934" r="4.5"/></g>
<g id="m33"><circle class="b" cx="670" cy="970" r="4.5"/></g><g id="m34"><circle class="b" cx="1422" cy="929" r="4.5"/></g>
<g id="m35"><circle class="b" cx="996" cy="1039" r="4.5"/></g><g id="m36"><circle class="b" cx="416" cy="940" r="4.5"/></g>
<g id="m37"><circle class="b" cx="210" cy="1041" r="4.5"/></g><g id="m38"><circle class="b" cx="115" cy="1202" r="4.5"/></g>
<g id="m39"><circle class="b" cx="163" cy="1247" r="4.5"/></g><g id="m40"><circle class="b" cx="349" cy="1248" r="4.5"/></g>
<g id="m41"><circle class="b" cx="377" cy="1244" r="4.5"/></g><g id="m42"><circle class="b" cx="433" cy="1266" r="4.5"/></g>
</g>
<g id="labels">
<text class="lab" x="1131" y="474">H3</text>
<text class="lab" x="866" y="673">H11</text>
<text class="lab" x="1161" y="897">H7</text>
<text class="lab" x="794" y="937">H34</text>
<text class="lab" x="1080" y="1013">H50</text>
<text class="lab" x="239" y="1182">H5</text>
</g>
</g>
</svg>
